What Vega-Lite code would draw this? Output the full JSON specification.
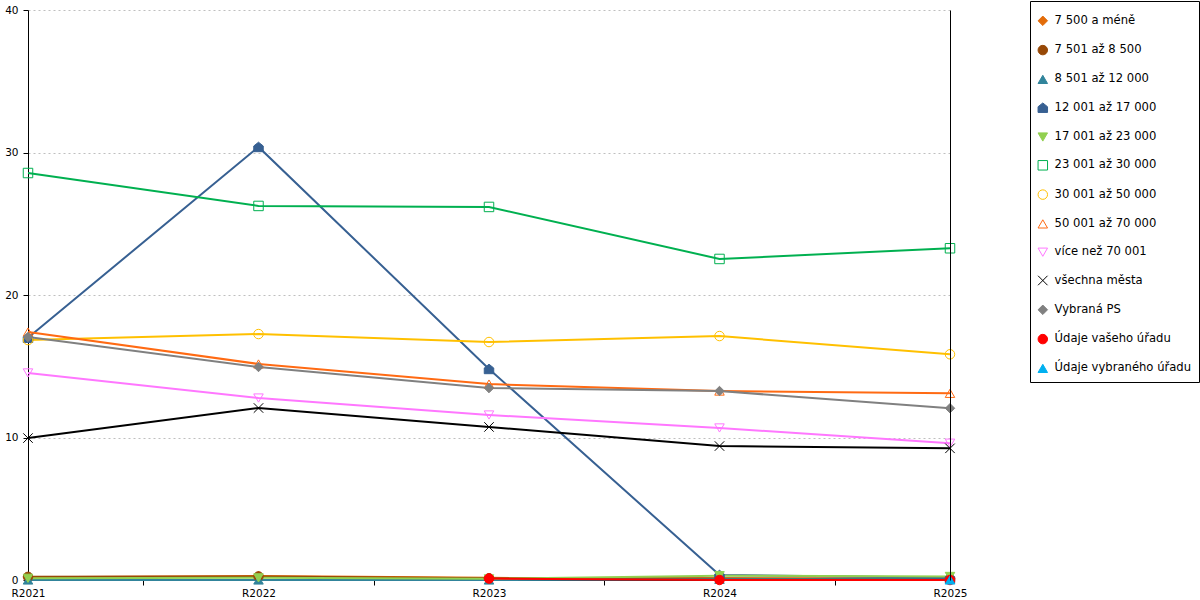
{
  "$schema": "https://vega.github.io/schema/vega-lite/v6.json",
  "width": 922,
  "height": 570,
  "autosize": {"type": "none"},
  "padding": {"left": 28, "top": 10, "right": 250, "bottom": 20},
  "background": "white",
  "config": {
    "view": {"stroke": null},
    "font": "DejaVu Sans",
    "axis": {"labelFont": "DejaVu Sans", "labelFontSize": 10.5, "labelColor": "black", "tickColor": "black", "domainColor": "black"}
  },
  "data": {
    "values": [
      {"rada": "7 500 a méně", "rok": 2021, "hodnota": 0.2},
      {"rada": "7 500 a méně", "rok": 2022, "hodnota": 0.28},
      {"rada": "7 500 a méně", "rok": 2023, "hodnota": 0.15},
      {"rada": "7 500 a méně", "rok": 2024, "hodnota": 0.12},
      {"rada": "7 500 a méně", "rok": 2025, "hodnota": 0.1},
      {"rada": "7 501 až 8 500", "rok": 2021, "hodnota": 0.22},
      {"rada": "7 501 až 8 500", "rok": 2022, "hodnota": 0.25},
      {"rada": "7 501 až 8 500", "rok": 2023, "hodnota": 0.12},
      {"rada": "7 501 až 8 500", "rok": 2024, "hodnota": 0.1},
      {"rada": "7 501 až 8 500", "rok": 2025, "hodnota": 0.08},
      {"rada": "8 501 až 12 000", "rok": 2021, "hodnota": 0},
      {"rada": "8 501 až 12 000", "rok": 2022, "hodnota": 0},
      {"rada": "8 501 až 12 000", "rok": 2023, "hodnota": 0},
      {"rada": "8 501 až 12 000", "rok": 2024, "hodnota": 0.05},
      {"rada": "8 501 až 12 000", "rok": 2025, "hodnota": 0.05},
      {"rada": "12 001 až 17 000", "rok": 2021, "hodnota": 17.0},
      {"rada": "12 001 až 17 000", "rok": 2022, "hodnota": 30.39},
      {"rada": "12 001 až 17 000", "rok": 2023, "hodnota": 14.81},
      {"rada": "12 001 až 17 000", "rok": 2024, "hodnota": 0.35},
      {"rada": "12 001 až 17 000", "rok": 2025, "hodnota": 0.15},
      {"rada": "17 001 až 23 000", "rok": 2021, "hodnota": 0.12},
      {"rada": "17 001 až 23 000", "rok": 2022, "hodnota": 0.15},
      {"rada": "17 001 až 23 000", "rok": 2023, "hodnota": 0.08},
      {"rada": "17 001 až 23 000", "rok": 2024, "hodnota": 0.3},
      {"rada": "17 001 až 23 000", "rok": 2025, "hodnota": 0.25},
      {"rada": "23 001 až 30 000", "rok": 2021, "hodnota": 28.56},
      {"rada": "23 001 až 30 000", "rok": 2022, "hodnota": 26.25},
      {"rada": "23 001 až 30 000", "rok": 2023, "hodnota": 26.18},
      {"rada": "23 001 až 30 000", "rok": 2024, "hodnota": 22.53},
      {"rada": "23 001 až 30 000", "rok": 2025, "hodnota": 23.28},
      {"rada": "30 001 až 50 000", "rok": 2021, "hodnota": 16.84},
      {"rada": "30 001 až 50 000", "rok": 2022, "hodnota": 17.26},
      {"rada": "30 001 až 50 000", "rok": 2023, "hodnota": 16.7},
      {"rada": "30 001 až 50 000", "rok": 2024, "hodnota": 17.12},
      {"rada": "30 001 až 50 000", "rok": 2025, "hodnota": 15.84},
      {"rada": "50 001 až 70 000", "rok": 2021, "hodnota": 17.4},
      {"rada": "50 001 až 70 000", "rok": 2022, "hodnota": 15.16},
      {"rada": "50 001 až 70 000", "rok": 2023, "hodnota": 13.75},
      {"rada": "50 001 až 70 000", "rok": 2024, "hodnota": 13.26},
      {"rada": "50 001 až 70 000", "rok": 2025, "hodnota": 13.1},
      {"rada": "více než 70 001", "rok": 2021, "hodnota": 14.53},
      {"rada": "více než 70 001", "rok": 2022, "hodnota": 12.77},
      {"rada": "více než 70 001", "rok": 2023, "hodnota": 11.58},
      {"rada": "více než 70 001", "rok": 2024, "hodnota": 10.67},
      {"rada": "více než 70 001", "rok": 2025, "hodnota": 9.6},
      {"rada": "všechna města", "rok": 2021, "hodnota": 9.96},
      {"rada": "všechna města", "rok": 2022, "hodnota": 12.07},
      {"rada": "všechna města", "rok": 2023, "hodnota": 10.74},
      {"rada": "všechna města", "rok": 2024, "hodnota": 9.4},
      {"rada": "všechna města", "rok": 2025, "hodnota": 9.24},
      {"rada": "Vybraná PS", "rok": 2021, "hodnota": 17.05},
      {"rada": "Vybraná PS", "rok": 2022, "hodnota": 14.95},
      {"rada": "Vybraná PS", "rok": 2023, "hodnota": 13.47},
      {"rada": "Vybraná PS", "rok": 2024, "hodnota": 13.26},
      {"rada": "Vybraná PS", "rok": 2025, "hodnota": 12.05},
      {"rada": "Údaje vašeho úřadu", "rok": 2023, "hodnota": 0.1},
      {"rada": "Údaje vašeho úřadu", "rok": 2024, "hodnota": 0},
      {"rada": "Údaje vašeho úřadu", "rok": 2025, "hodnota": 0},
      {"rada": "Údaje vybraného úřadu", "rok": 2025, "hodnota": 0}
    ]
  },
  "encoding": {
    "x": {
      "field": "rok",
      "type": "quantitative",
      "scale": {"domain": [2021, 2025], "nice": false, "zero": false},
      "axis": {
        "title": null,
        "grid": false,
        "values": [2021, 2021.5, 2022, 2022.5, 2023, 2023.5, 2024, 2024.5, 2025],
        "labelExpr": "datum.value % 1 === 0 ? 'R' + datum.value : ''",
        "labelFlush": false,
        "labelOverlap": false,
        "labelPadding": 3,
        "tickSize": 5,
        "tickOpacity": {"condition": {"test": "datum.value % 1 === 0", "value": 0}, "value": 1}
      }
    }
  },
  "layer": [
    {
      "mark": {"type": "line", "strokeWidth": 2},
      "encoding": {
        "y": {
          "field": "hodnota",
          "type": "quantitative",
          "scale": {"domain": [0, 40], "nice": false},
          "axis": {
            "title": null,
            "values": [0, 10, 20, 30, 40],
            "tickSize": 5,
            "labelPadding": 5,
            "grid": true,
            "gridColor": "#BFBFBF",
            "gridDash": [2, 3],
            "gridWidth": 1
          }
        },
        "color": {
          "field": "rada",
          "type": "nominal",
          "legend": null,
          "scale": {
            "domain": ["Údaje vybraného úřadu", "Údaje vašeho úřadu", "Vybraná PS", "všechna města", "více než 70 001", "50 001 až 70 000", "30 001 až 50 000", "23 001 až 30 000", "17 001 až 23 000", "12 001 až 17 000", "8 501 až 12 000", "7 501 až 8 500", "7 500 a méně"],
            "range": ["#00B0F0", "#FF0000", "#808080", "#000000", "#FF77FF", "#FF6A13", "#FFC000", "#00B050", "#92D050", "#376092", "#31849B", "#974806", "#E36C09"]
          }
        }
      }
    },
    {
      "mark": {"type": "point", "size": 90, "strokeWidth": 1, "opacity": 1},
      "encoding": {
        "y": {
          "field": "hodnota",
          "type": "quantitative",
          "axis": {"orient": "right", "title": null, "labels": false, "ticks": false, "grid": false, "domainColor": "black", "zindex": 1}
        },
        "fill": {
          "field": "rada",
          "type": "nominal",
          "legend": {
            "title": " ",
            "titleFontSize": 2,
            "titlePadding": 5,
            "orient": "none",
            "legendX": 1002,
            "legendY": -9,
            "strokeColor": "black",
            "fillColor": "white",
            "padding": 7,
            "rowPadding": 15.3,
            "labelFont": "DejaVu Sans",
            "labelFontSize": 11.6,
            "labelColor": "black",
            "labelOffset": 6,
            "symbolSize": 90,
            "symbolStrokeWidth": 1,
            "labelLimit": 300
          },
          "scale": {
            "domain": ["7 500 a méně", "7 501 až 8 500", "8 501 až 12 000", "12 001 až 17 000", "17 001 až 23 000", "23 001 až 30 000", "30 001 až 50 000", "50 001 až 70 000", "více než 70 001", "všechna města", "Vybraná PS", "Údaje vašeho úřadu", "Údaje vybraného úřadu"],
            "range": ["#E36C09", "#974806", "#31849B", "#376092", "#92D050", "transparent", "transparent", "transparent", "transparent", "transparent", "#808080", "#FF0000", "#00B0F0"]
          }
        },
        "stroke": {
          "field": "rada",
          "type": "nominal",
          "scale": {
            "domain": ["7 500 a méně", "7 501 až 8 500", "8 501 až 12 000", "12 001 až 17 000", "17 001 až 23 000", "23 001 až 30 000", "30 001 až 50 000", "50 001 až 70 000", "více než 70 001", "všechna města", "Vybraná PS", "Údaje vašeho úřadu", "Údaje vybraného úřadu"],
            "range": ["#E36C09", "#974806", "#31849B", "#376092", "#92D050", "#00B050", "#FFC000", "#FF6A13", "#FF77FF", "#000000", "#808080", "#FF0000", "#00B0F0"]
          }
        },
        "shape": {
          "field": "rada",
          "type": "nominal",
          "scale": {
            "domain": ["7 500 a méně", "7 501 až 8 500", "8 501 až 12 000", "12 001 až 17 000", "17 001 až 23 000", "23 001 až 30 000", "30 001 až 50 000", "50 001 až 70 000", "více než 70 001", "všechna města", "Vybraná PS", "Údaje vašeho úřadu", "Údaje vybraného úřadu"],
            "range": ["diamond", "circle", "triangle-up", "M0,-1L1,-0.2L1,1L-1,1L-1,-0.2Z", "triangle-down", "square", "circle", "triangle-up", "triangle-down", "M-1,-1L1,1M1,-1L-1,1", "diamond", "circle", "triangle-up"]
          }
        }
      }
    }
  ],
  "resolve": {"axis": {"y": "independent"}}
}
